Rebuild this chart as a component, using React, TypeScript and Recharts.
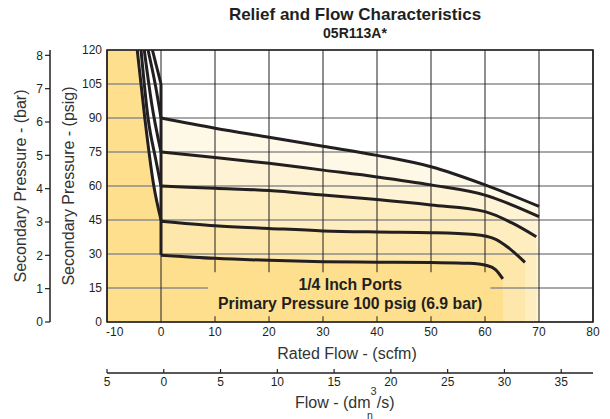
import React from "react";
import {
  Area,
  CartesianGrid,
  ComposedChart,
  Line,
  ReferenceArea,
  XAxis,
  YAxis
} from "recharts";

const scfmTicks = [-10, 0, 10, 20, 30, 40, 50, 60, 70, 80];
const psigTicks = [0, 15, 30, 45, 60, 75, 90, 105, 120];
const barTicks = [0, 1, 2, 3, 4, 5, 6, 7, 8];
const dmTicks = [-5, 0, 5, 10, 15, 20, 25, 30, 35];

// flow curves, [scfm, psig]
const curve90 = [[0, 90], [10, 85.5], [20, 81.5], [30, 77.5], [40, 73.5], [50, 68.5], [60, 60.5], [70, 51]];
const curve75 = [[0, 75], [10, 72.6], [20, 70], [30, 67], [40, 64], [50, 60.5], [60, 56], [70, 46.5]];
const curve60 = [[0, 60], [10, 59], [20, 58], [30, 56], [40, 54], [50, 51.6], [60, 48.7], [65, 43.7], [69.5, 37.6]];
const curve45 = [[0, 44.5], [10, 42.5], [20, 41.3], [30, 40.2], [40, 39.7], [50, 39.4], [58, 38.6], [62, 36.5], [64.5, 32.5], [67.4, 26.3]];
const curve30 = [[0, 29.5], [10, 28.1], [20, 27.2], [30, 26.6], [40, 26.4], [50, 26.2], [57, 25.9], [60.5, 24.8], [62, 23], [63.3, 19]];

// relief side (negative flow)
const relief45 = [[-4.4, 120], [-3, 90], [-1.4, 61], [0, 45]];
const relief60 = [[-3.7, 120], [-2.4, 90], [-1, 72], [0, 60]];
const relief75 = [[-3.1, 120], [-1.7, 96], [0, 75]];
const relief90 = [[-2.4, 120], [-1, 104], [0, 90]];
const relief105 = [[-1.6, 120], [0, 105]];
const zeroFlow = [[0, 29.5], [0, 105]];
const reliefZone = [[-10, 120], [-4.4, 120], [-3, 90], [-1.4, 61], [0, 45]];

const pts = (arr: number[][]) => arr.map(([x, y]) => ({ x, y }));

const font = "'Liberation Sans', Arial, sans-serif";
const ink = "#231F20";
const orange = "#FDDF8E";

// axis ids: the first one (alphabetically) sits next to the plot
const SCFM = "a_scfm";
const DM = "b_dm";
const PSIG = "a_psig";
const BAR = "b_bar";

const layers = [
  { data: curve90, fill: "#FEF8E7" },
  { data: curve75, fill: "#FEF3D4" },
  { data: curve60, fill: "#FEEDBF" },
  { data: curve45, fill: "#FEE7AA" },
  { data: curve30, fill: orange }
];

const curves = [curve90, curve75, curve60, curve45, curve30];
const reliefs = [relief45, relief60, relief75, relief90, relief105];

const ScfmTick = (props: any) => {
  const { x, y, payload } = props;
  const first = payload.value === -10;
  return (
    <text x={first ? x - 1 : x} y={y} dy={14} textAnchor={first ? "start" : "middle"} fontSize={12} fill={ink} fontFamily={font}>
      {payload.value}
    </text>
  );
};

const DmTick = (props: any) => {
  const { x, y, payload } = props;
  return (
    <g>
      <line x1={x} x2={x} y1={y} y2={y - 4} stroke={ink} strokeWidth={1.2} />
      <text x={x} y={y} dy={12.5} textAnchor="middle" fontSize={12} fill={ink} fontFamily={font}>
        {Math.abs(payload.value)}
      </text>
    </g>
  );
};

const sideLabel = (text: string, cx: number) => () => (
  <text
    x={cx}
    y={178}
    transform={`rotate(-90 ${cx} 178)`}
    textAnchor="middle"
    dominantBaseline="central"
    fontSize={16}
    fill="#333"
    fontFamily={font}
  >
    {text}
  </text>
);

const scfmLabel = () => (
  <text x={339} y={351} textAnchor="middle" fontSize={16} fill="#333" fontFamily={font}>
    Rated Flow - (scfm)
  </text>
);

const flowLabel = () => (
  <g fontFamily={font} fill="#333">
    <text x={287} y={399.5} fontSize={16}>
      Flow - (dm
      <tspan dy={-12.5} fontSize={11}>3</tspan>
      <tspan dy={12.5}>/s)</tspan>
    </text>
    <text x={359} y={410.5} fontSize={10.5}>n</text>
  </g>
);

const boxLabel = (props: any) => {
  const vb = props.viewBox || { x: 200, y: 264, width: 283, height: 44 };
  const cx = vb.x + vb.width / 2 + 1;
  const cy = vb.y + vb.height / 2;
  return (
    <g fontFamily={font} fontWeight="bold" fill={ink} textAnchor="middle">
      <text x={cx} y={cy - 4} fontSize={15.8}>1/4 Inch Ports</text>
      <text x={cx} y={cy + 14.5} fontSize={15.8}>Primary Pressure 100 psig (6.9 bar)</text>
    </g>
  );
};

export default function App() {
  return (
    <div style={{ position: "relative", width: 602, height: 411, fontFamily: font }}>
      <div style={{ position: "absolute", left: 147, width: 400, top: -2, textAlign: "center", fontWeight: "bold", fontSize: 17, lineHeight: "17px", color: ink }}>
        Relief and Flow Characteristics
      </div>
      <div style={{ position: "absolute", left: 147, width: 400, top: 18, textAlign: "center", fontWeight: "bold", fontSize: 14, lineHeight: "14px", color: ink }}>
        05R113A*
      </div>
      <ComposedChart width={602} height={411} margin={{ top: 42, right: 17, bottom: 0, left: 0 }}>
        <XAxis
          xAxisId={SCFM}
          type="number"
          dataKey="x"
          domain={[-10, 80]}
          ticks={scfmTicks}
          allowDataOverflow
          axisLine={false}
          tickLine={false}
          tickSize={0}
          tickMargin={0}
          height={51}
          tick={ScfmTick}
          label={scfmLabel}
        />
        <XAxis
          xAxisId={DM}
          type="number"
          dataKey="x"
          domain={[-5, 37.8]}
          ticks={dmTicks}
          allowDataOverflow
          axisLine={{ stroke: ink, strokeWidth: 1.5 }}
          tickLine={false}
          tickSize={0}
          tickMargin={0}
          height={46}
          tick={DmTick}
          label={flowLabel}
        />
        <YAxis
          yAxisId={PSIG}
          type="number"
          domain={[0, 120]}
          ticks={psigTicks}
          allowDataOverflow
          axisLine={false}
          tickLine={false}
          tickSize={0}
          tickMargin={5}
          width={57}
          tick={{ fontSize: 12, fill: ink, fontFamily: font }}
          label={sideLabel("Secondary Pressure - (psig)", 60)}
        />
        <YAxis
          yAxisId={BAR}
          type="number"
          domain={[0, 8.16]}
          ticks={barTicks}
          allowDataOverflow
          axisLine={{ stroke: ink, strokeWidth: 1.5 }}
          tickLine={{ stroke: ink, strokeWidth: 1.2 }}
          tickSize={5}
          tickMargin={2}
          width={42}
          tick={{ fontSize: 12, fill: ink, fontFamily: font }}
          label={sideLabel("Secondary Pressure - (bar)", 12)}
        />

        {layers.map((l, i) => (
          <Area
            key={"a" + i}
            xAxisId={SCFM}
            yAxisId={PSIG}
            data={pts(l.data)}
            dataKey="y"
            type="monotone"
            stroke="none"
            fill={l.fill}
            fillOpacity={1}
            isAnimationActive={false}
          />
        ))}
        <Area
          xAxisId={SCFM}
          yAxisId={PSIG}
          data={pts(reliefZone)}
          dataKey="y"
          type="linear"
          stroke="none"
          fill={orange}
          fillOpacity={1}
          isAnimationActive={false}
        />

        <CartesianGrid xAxisId={SCFM} yAxisId={PSIG} horizontal vertical={false} stroke="#8C8C8C" strokeWidth={1.4} zIndex={150} />
        <CartesianGrid xAxisId={SCFM} yAxisId={PSIG} horizontal={false} vertical stroke={ink} strokeWidth={1} zIndex={150} />

        <ReferenceArea
          xAxisId={SCFM}
          yAxisId={PSIG}
          x1={8.7}
          x2={61}
          y1={2.5}
          y2={22}
          fill={orange}
          fillOpacity={1}
          stroke="none"
          zIndex={160}
          label={boxLabel}
        />
        <ReferenceArea
          xAxisId={SCFM}
          yAxisId={PSIG}
          x1={-10}
          x2={80}
          y1={0}
          y2={120}
          fill="none"
          stroke={ink}
          strokeWidth={1.6}
          zIndex={170}
        />

        {curves.map((c, i) => (
          <Line
            key={"c" + i}
            xAxisId={SCFM}
            yAxisId={PSIG}
            data={pts(c)}
            dataKey="y"
            type="monotone"
            stroke={ink}
            strokeWidth={3}
            dot={false}
            activeDot={false}
            isAnimationActive={false}
          />
        ))}
        {reliefs.map((c, i) => (
          <Line
            key={"r" + i}
            xAxisId={SCFM}
            yAxisId={PSIG}
            data={pts(c)}
            dataKey="y"
            type="monotone"
            stroke={ink}
            strokeWidth={3}
            dot={false}
            activeDot={false}
            isAnimationActive={false}
          />
        ))}
        <Line
          xAxisId={SCFM}
          yAxisId={PSIG}
          data={pts(zeroFlow)}
          dataKey="y"
          type="linear"
          stroke={ink}
          strokeWidth={3}
          dot={false}
          activeDot={false}
          isAnimationActive={false}
        />
      </ComposedChart>
    </div>
  );
}
